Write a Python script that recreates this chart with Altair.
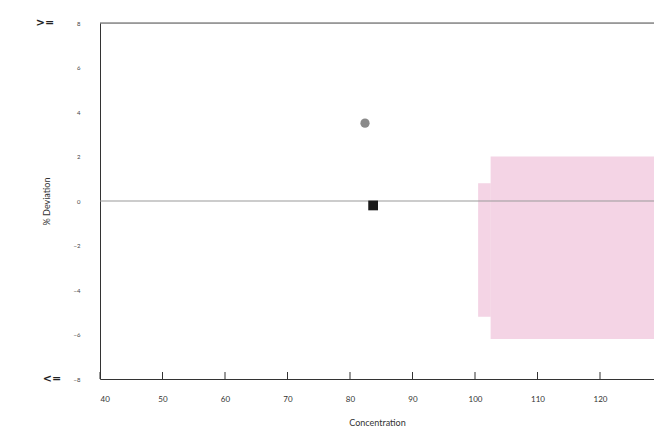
import altair as alt
import pandas as pd

# Measured deviations
conc = [82.4, 83.7]
deviation = [3.5, -0.2]
marker = ["circle", "square"]

x_ticks = [40, 50, 60, 70, 80, 90, 100, 110, 120]
y_ticks = [8, 6, 4, 2, 0, -2, -4, -6, -8]

# Shaded band on the right side
band_x1 = [102.5, 100.5]
band_x2 = [130.0, 102.5]
band_y1 = [-6.2, -5.2]
band_y2 = [2.0, 0.8]

limit_labels = [">=", "<="]
limit_values = [8, -8]
limit_offsets = [-55, -48]

W, H = 554, 356
FONT = "Lato"

pts = pd.DataFrame({"conc": conc, "dev": deviation, "marker": marker})
band = pd.DataFrame({"x1": band_x1, "x2": band_x2, "y1": band_y1, "y2": band_y2})
xt = pd.DataFrame({"x": x_ticks})
lim = pd.DataFrame({"lab": limit_labels, "v": limit_values, "off": limit_offsets})

xs = alt.Scale(domain=[40, 128.64], nice=False, zero=False)
ys = alt.Scale(domain=[-8, 8], nice=False, zero=False)

base_x = alt.X(
    "conc:Q", scale=xs,
    axis=alt.Axis(values=x_ticks, title="Concentration", grid=False, ticks=False,
                  labelPadding=16, labelFontSize=8, labelColor="#333",
                  titleFontSize=9, titleFontWeight="normal", titleColor="#333",
                  titlePadding=15, domainColor="#333", labelFont=FONT, titleFont=FONT),
)
base_y = alt.Y(
    "dev:Q", scale=ys,
    axis=alt.Axis(values=y_ticks, title="% Deviation", grid=False, ticks=False,
                  labelPadding=20, labelFontSize=6, labelColor="#444",
                  titleFontSize=9, titleFontWeight="normal", titleColor="#333",
                  titlePadding=22, domainColor="#333", labelFont=FONT, titleFont=FONT),
)

shade = alt.Chart(band).mark_rect(color="#eaaacb", opacity=0.5, clip=True).encode(
    x=alt.X("x1:Q", scale=xs), x2="x2:Q",
    y=alt.Y("y1:Q", scale=ys), y2="y2:Q",
)

zero_line = alt.Chart(pd.DataFrame({"z": [0]})).mark_rule(
    color="#999", strokeWidth=1
).encode(y=alt.Y("z:Q", scale=ys), x=alt.value(0), x2=alt.value(W))

top_line = alt.Chart(pd.DataFrame({"t": [8]})).mark_rule(
    color="#555", strokeWidth=1
).encode(y=alt.Y("t:Q", scale=ys), x=alt.value(0), x2=alt.value(W))

tick_marks = alt.Chart(xt).mark_rule(color="#333", strokeWidth=1).encode(
    x=alt.X("x:Q", scale=xs), y=alt.value(H), y2=alt.value(H - 7)
)

circle = alt.Chart(pts[pts.marker == "circle"]).mark_point(
    shape="circle", filled=True, size=85, color="#8a8a8a", opacity=1
).encode(x=base_x, y=base_y)

square = alt.Chart(pts[pts.marker == "square"]).mark_point(
    shape="square", filled=True, size=95, color="#1a1a1a", opacity=1
).encode(x=alt.X("conc:Q", scale=xs), y=alt.Y("dev:Q", scale=ys))

limits = alt.Chart(lim).mark_text(
    font="DejaVu Sans", fontSize=11, fontWeight="bold", color="#222", align="center"
).encode(x=alt.X("off:Q", scale=None), y=alt.Y("v:Q", scale=ys), text="lab:N")

chart = alt.layer(
    shade, zero_line, top_line, tick_marks, circle, square, limits
).properties(
    width=W, height=H,
    autosize=alt.AutoSizeParams(type="none"),
    padding={"left": 100, "top": 23, "right": 0, "bottom": 60},
).configure_view(stroke=None).configure(background="#ffffff")

chart.save("out.html", embed_options={"renderer": "svg", "actions": False})
